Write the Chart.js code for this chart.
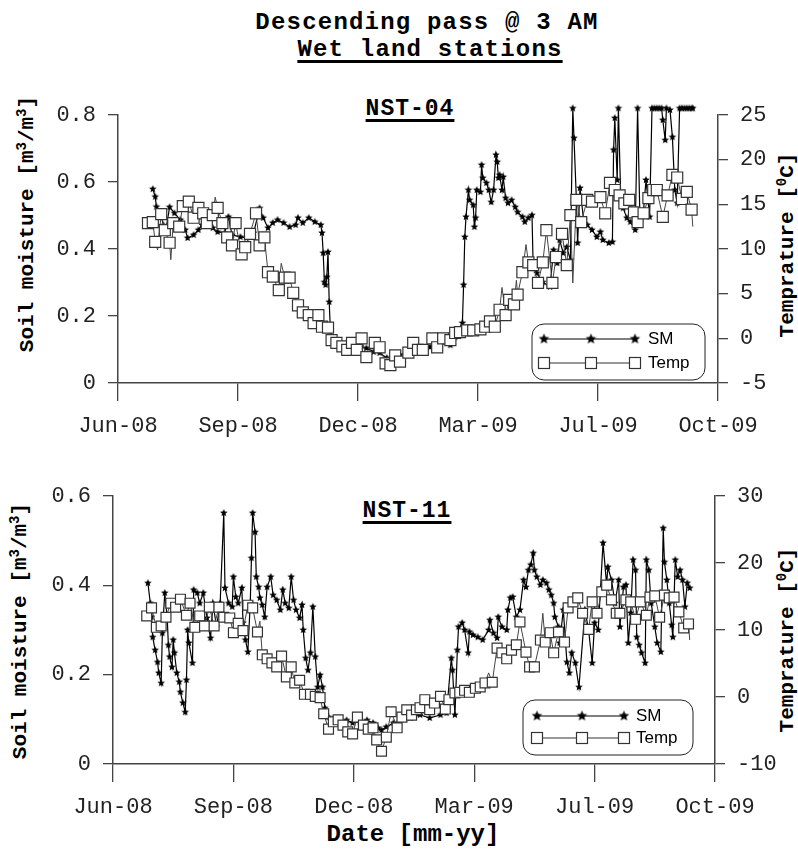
<!DOCTYPE html>
<html>
<head>
<meta charset="utf-8">
<script src="https://cdn.jsdelivr.net/npm/chart.js@4.4.1/dist/chart.umd.min.js"></script>
<style>
  body { margin: 0; background: #fff; width: 798px; height: 855px; position: relative; overflow: hidden;
         font-family: "Liberation Mono", "Courier New", monospace; }
  canvas { position: absolute; left: 0; }
  .t { position: absolute; font-weight: bold; color: #000; white-space: nowrap; line-height: 1; }
  .h { transform: translateX(-50%); }
  .u { text-decoration: underline; text-decoration-thickness: 3px; text-underline-offset: 4px; }
  .v { transform: translate(-50%, -50%) rotate(-90deg); font-size: 21px; }
  sup { font-size: 14px; vertical-align: 7px; line-height: 0; }
</style>
</head>
<body>
<div class="t h" style="left:427px;top:11px;font-size:24px;letter-spacing:1.2px">Descending pass @ 3 AM</div>
<div class="t h u" style="left:430px;top:38px;font-size:24px;letter-spacing:1.2px">Wet land stations</div>
<div class="t h u" style="left:410px;top:98px;font-size:23px;letter-spacing:1px">NST-04</div>
<div class="t h u" style="left:407px;top:500px;font-size:23px;letter-spacing:1px">NST-11</div>
<div class="t v" style="left:27px;top:224px">Soil moisture [m<sup>3</sup>/m<sup>3</sup>]</div>
<div class="t v" style="left:20px;top:631px">Soil moisture [m<sup>3</sup>/m<sup>3</sup>]</div>
<div class="t v" style="left:787px;top:245px">Temprature [<sup>0</sup>C]</div>
<div class="t v" style="left:787px;top:640px">Temprature [<sup>0</sup>C]</div>
<div class="t h" style="left:413px;top:823px;font-size:24px">Date [mm-yy]</div>

<canvas id="top" width="798" height="440" style="top:0"></canvas>
<canvas id="bottom" width="798" height="415" style="top:440px"></canvas>

<script>
// x = days since 1 Jun 2008, y = value
// a third element 0 means a point of the thin line with no square marker
const sm04 = [[29,0.579],[31,0.556],[32,0.526],[35,0.511],[38,0.47],[40,0.46],[43,0.525],[47,0.507],[52,0.487],[56,0.457],
  [58,0.433],[63,0.442],[67,0.457],[70,0.472],[74,0.472],[79,0.463],[83,0.451],[89,0.448],[92,0.496],[95,0.442],
  [102,0.436],[107,0.433],[113,0.448],[118,0.522],[121,0.493],[125,0.463],[129,0.478],[133,0.487],[138,0.478],[143,0.466],
  [148,0.472],[150,0.493],[154,0.478],[159,0.493],[164,0.481],[169,0.472],[170,0.448],[171,0.388],[172,0.301],[173,0.293],
  [174,0.316],[175,0.391],[176,0.242],[177,0.158],[179,0.128],[185,0.113],[193,0.104],[202,0.107],[207,0.104],[213,0.093],
  [218,0.090],[224,0.075],[229,0.078],[235,0.084],[241,0.090],[246,0.099],[252,0.104],[260,0.107],[268,0.119],[277,0.113],
  [281,0.137],[287,0.179],[288,0.293],[289,0.436],[290,0.496],[292,0.576],[293,0.546],[296,0.531],[297,0.466],[298,0.493],
  [299,0.576],[302,0.570],[303,0.651],[304,0.612],[307,0.597],[309,0.576],[311,0.540],[313,0.576],[315,0.681],[316,0.660],
  [317,0.612],[318,0.621],[320,0.576],[321,0.615],[323,0.552],[325,0.537],[328,0.546],[331,0.525],[333,0.510],[337,0.496],
  [339,0.481],[342,0.493],[345,0.501],[346,0.343],[349,0.328],[354,0.301],[360,0.287],[363,0.397],[366,0.358],[368,0.427],
  [371,0.388],[374,0.406],[377,0.367],[379,0.82],[380,0.731],[382,0.546],[383,0.418],[385,0.582],[388,0.487],[391,0.472],
  [395,0.457],[399,0.436],[402,0.451],[404,0.427],[409,0.418],[412,0.421],[413,0.696],[414,0.791],[416,0.606],[417,0.82],
  [419,0.546],[421,0.522],[424,0.493],[427,0.481],[431,0.457],[433,0.82],[435,0.481],[438,0.516],[440,0.606],[443,0.496],
  [445,0.82],[447,0.82],[449,0.82],[451,0.82],[453,0.82],[454,0.785],[456,0.725],[457,0.82],[460,0.815],[462,0.734],
  [464,0.576],[466,0.537],[468,0.82],[470,0.82],[472,0.82],[474,0.82],[476,0.82],[478,0.82],[479,0.82]];

const temp04 = [[25,12.9],[29,13.0],[31,10.8],[33,9.9,0],[36,13.9],[39,12.1],[43,10.7],[44,8.8,0],[46,12.9],[51,12.5],
  [54,14.8],[59,15.3],[63,13.5],[67,14.6],[71,14.0],[74,12.9],[79,13.8],[81,15.8,0],[83,14.6],[87,12.9],
  [91,11.3],[95,10.4],[98,12.9],[103,9.4],[106,10.2],[110,11.7],[115,14.0],[118,10.4],[122,11.3],[125,7.4],
  [129,6.9],[134,5.4],[136,8.4,0],[139,6.8],[143,6.8],[146,5.1],[150,3.7],[154,2.9],[159,2.6],[163,1.7],
  [167,2.6],[170,1.3],[175,1.2],[178,-0.2],[182,-0.5],[187,-0.9],[191,-1.3],[195,-0.5],[199,-1.3],[203,0.0],
  [207,-2.1],[214,-0.5],[218,-1.0],[223,-2.8],[227,-3.0],[231,-1.9],[235,-2.6],[242,-1.6],[246,-0.5],[250,-1.3],
  [254,-1.3],[262,0.0],[266,-1.0],[271,0.0],[277,-0.2],[281,0.6],[285,0.7],[291,0.9],[296,0.9],[302,1.0],
  [306,1.3],[310,1.9],[314,1.3],[318,3.2],[320,5.7,0],[323,2.6],[326,4.3],[330,3.8],[332,6.5,0],[333,4.9],
  [337,7.4],[340,10.5,0],[342,8.5],[346,8.2],[350,6.2],[354,8.5],[357,12.1],[362,6.2],[365,9.1],[370,11.7],
  [374,8.2],[377,13.8],[379,6.2,0],[382,15.5],[386,13.0],[391,15.5],[395,15.3],[402,15.8],[406,14.0],[410,17.4],
  [414,16.6],[418,16.0],[422,15.1],[426,15.5],[430,14.1],[433,13.0],[438,14.0],[442,15.7],[446,16.6],[449,16.6],
  [454,13.6],[458,16.0],[462,18.3],[466,18.0],[470,15.6],[474,16.4],[478,14.4],[479,12.5,0]];

const sm11 = [[29,0.405],[31,0.360],[32,0.329],[33,0.284],[35,0.255],[37,0.228],[38,0.204],[40,0.181],[41,0.293],[43,0.383],
  [45,0.329],[46,0.266],[47,0.240],[49,0.217],[50,0.278],[51,0.249],[53,0.204],[55,0.184],[56,0.161],[58,0.137],
  [60,0.116],[61,0.188],[62,0.300],[63,0.271],[66,0.226],[67,0.390],[70,0.383],[72,0.360],[75,0.383],[78,0.327],
  [81,0.282],[83,0.360],[86,0.307],[89,0.360],[92,0.562],[93,0.394],[96,0.360],[99,0.352],[100,0.419],[102,0.374],
  [104,0.360],[107,0.394],[108,0.316],[110,0.278],[112,0.251],[114,0.360],[115,0.461],[116,0.562],[118,0.519],[119,0.419],
  [121,0.396],[122,0.372],[124,0.356],[126,0.329],[128,0.396],[131,0.419],[133,0.378],[136,0.367],[139,0.345],[141,0.390],
  [143,0.360],[146,0.349],[148,0.419],[150,0.367],[152,0.345],[155,0.327],[157,0.356],[158,0.300],[160,0.237],[162,0.210],
  [164,0.249],[166,0.352],[168,0.240],[170,0.172],[172,0.199],[174,0.172],[176,0.125],[179,0.105],[183,0.098],[189,0.094],
  [194,0.098],[199,0.092],[205,0.094],[211,0.098],[216,0.092],[220,0.081],[223,0.076],[227,0.083],[233,0.092],[238,0.094],
  [247,0.103],[255,0.110],[263,0.103],[272,0.110],[277,0.114],[281,0.237],[282,0.210],[284,0.110],[286,0.255],[287,0.307],
  [290,0.316],[292,0.300],[295,0.249],[296,0.296],[299,0.289],[303,0.284],[307,0.278],[312,0.300],[313,0.322],[316,0.293],
  [319,0.282],[320,0.329],[323,0.307],[327,0.300],[328,0.345],[330,0.372],[332,0.374],[335,0.329],[338,0.345],[341,0.412],
  [343,0.396],[345,0.434],[347,0.446],[349,0.472],[350,0.434],[352,0.419],[355,0.401],[357,0.412],[360,0.405],[362,0.390],
  [364,0.378],[366,0.360],[367,0.329],[370,0.307],[371,0.271],[374,0.345],[377,0.228],[379,0.204],[381,0.249],[384,0.226],
  [387,0.172],[392,0.345],[395,0.300],[398,0.226],[400,0.316],[403,0.300],[407,0.495],[410,0.401],[411,0.441],[414,0.412],
  [417,0.360],[420,0.412],[421,0.307],[424,0.396],[426,0.401],[428,0.271],[430,0.338],[432,0.457],[434,0.434],[435,0.284],
  [437,0.266],[439,0.249],[442,0.226],[443,0.457],[445,0.434],[447,0.360],[450,0.307],[452,0.271],[455,0.251],[457,0.528],
  [458,0.452],[460,0.412],[462,0.360],[464,0.311],[465,0.284],[467,0.457],[469,0.419],[471,0.434],[473,0.412],[475,0.352],
  [477,0.405],[479,0.394]];

const temp11 = [[28,12.1],[32,13.3],[36,10.4],[40,10.6],[44,11.9],[48,14.0],[52,13.4],[56,14.6],[61,12.2],[64,14.0],
  [68,10.4],[72,12.1],[76,10.6],[80,13.4],[84,10.6],[88,13.4],[92,11.9],[97,11.8],[100,9.6],[104,11.0],
  [108,9.9],[112,13.7],[116,13.3],[120,9.7],[122,11.3,0],[124,6.3],[128,5.7],[132,5.1],[136,4.5],[140,6.1],
  [144,3.0],[148,4.5],[151,2.1],[155,2.5],[159,0.4],[164,0.4],[168,0.1],[172,-0.1],[175,-2.5],[179,-4.8],
  [183,-3.7],[187,-3.4],[191,-4.2],[195,-5.2],[199,-5.5],[203,-3.0],[208,-4.2],[212,-4.8],[216,-4.6],[219,-6.4],
  [223,-8.1],[227,-6.0],[231,-2.2],[236,-4.6],[240,-3.0],[244,-1.9],[248,-2.7],[252,-1.9],[255,-1.6],[259,-0.4],
  [263,-1.9],[267,-0.9],[272,0.1],[276,-1.8],[279,-0.4],[284,0.6],[288,0.7],[292,1.0],[296,0.7],[301,1.3],
  [305,1.5],[309,2.1],[312,3.6,0],[315,2.2],[319,7.3],[323,6.6],[327,5.7],[331,7.0],[335,7.8],[338,11.2],
  [343,6.7],[346,4.5],[350,4.5],[355,8.5],[357,12.5,0],[359,8.2],[363,9.6],[366,6.6],[370,9.7],[375,8.2],
  [378,13.3],[382,14.2],[386,14.8],[390,12.5],[395,10.1],[398,14.2],[402,12.5],[406,15.7],[410,16.7],[414,14.5],
  [418,12.5],[421,12.5],[426,14.5],[430,14.2],[434,11.6],[438,14.2],[443,12.2],[446,14.9],[450,15.1],[454,11.9],
  [458,15.2],[462,14.8],[466,14.9],[470,12.7],[474,10.3],[478,10.9],[479,8.5,0]];

const xTicks = [0, 100, 200, 300, 400, 500];
const months = ['Jan','Feb','Mar','Apr','May','Jun','Jul','Aug','Sep','Oct','Nov','Dec'];

function fmtDay(v) {
  const d = new Date(2008, 5, 1 + v);
  return months[d.getMonth()] + '-' + String(d.getFullYear() % 100).padStart(2, '0');
}

function starImg(r) {
  const c = document.createElement('canvas');
  const s = Math.ceil(r * 2 + 2);
  c.width = c.height = s;
  const g = c.getContext('2d');
  g.translate(s / 2, s / 2);
  g.beginPath();
  for (let i = 0; i < 10; i++) {
    const a = -Math.PI / 2 + i * Math.PI / 5;
    const rr = i % 2 ? r * 0.45 : r;
    g.lineTo(Math.cos(a) * rr, Math.sin(a) * rr);
  }
  g.closePath();
  g.fillStyle = '#000';
  g.fill();
  return c;
}

const star = starImg(4);
const bigStar = starImg(5.5);

const tickFont = { family: '"Liberation Mono", "Courier New", monospace', size: 22 };
const axisCol = '#444';

// rounded legend box with three markers per row, like the original
const legendBox = {
  id: 'legendBox',
  afterDatasetsDraw(chart, args, o) {
    const ctx = chart.ctx;
    ctx.save();
    ctx.fillStyle = '#fff';
    ctx.strokeStyle = '#222';
    ctx.lineWidth = 1;
    ctx.beginPath();
    ctx.roundRect(o.x, o.y, o.w, o.h, 12);
    ctx.fill();
    ctx.stroke();

    ctx.strokeStyle = '#000';
    ctx.beginPath();
    ctx.moveTo(o.xs[0], o.rows[0]); ctx.lineTo(o.xs[2], o.rows[0]);
    ctx.stroke();
    o.xs.forEach(x => ctx.drawImage(bigStar, x - bigStar.width / 2, o.rows[0] - bigStar.height / 2));

    ctx.strokeStyle = '#333';
    ctx.beginPath();
    ctx.moveTo(o.xs[0], o.rows[1]); ctx.lineTo(o.xs[2], o.rows[1]);
    ctx.stroke();
    ctx.lineWidth = 1.2;
    o.xs.forEach(x => {
      ctx.fillStyle = '#fff';
      ctx.fillRect(x - 5.5, o.rows[1] - 5.5, 11, 11);
      ctx.strokeRect(x - 5.5, o.rows[1] - 5.5, 11, 11);
    });

    ctx.fillStyle = '#000';
    ctx.font = '17px "Liberation Sans", Arial, sans-serif';
    ctx.textBaseline = 'middle';
    ctx.fillText('SM', o.tx, o.rows[0]);
    ctx.fillText('Temp', o.tx, o.rows[1]);
    ctx.restore();
  }
};

function panel(el, o) {
  const gridOpts = len => ({ display: true, drawOnChartArea: false, drawTicks: true, tickLength: len, color: axisCol, lineWidth: 1.3 });
  return new Chart(el, {
    type: 'line',
    data: {
      datasets: [
        {
          label: 'Temp', yAxisID: 'yT', order: 0,
          data: o.temp.map(p => ({ x: p[0], y: p[1], m: p[2] })),
          borderColor: '#444', borderWidth: 1, tension: 0,
          pointStyle: 'rect', pointRadius: c => (c.raw && c.raw.m === 0 ? 0 : o.sq),
          pointBackgroundColor: '#fff', pointBorderColor: '#333', pointBorderWidth: 1.2
        },
        {
          label: 'SM', yAxisID: 'ySM', order: 1, clip: false,
          data: o.sm.map(p => ({ x: p[0], y: p[1] })),
          borderColor: '#000', borderWidth: 1.2, tension: 0,
          pointStyle: star, pointRadius: 4, pointBorderWidth: 8
        }
      ]
    },
    options: {
      responsive: false,
      animation: false,
      events: [],
      layout: { padding: { top: o.padTop, left: 0, right: 0, bottom: 0 } },
      plugins: { legend: { display: false }, tooltip: { enabled: false }, legendBox: o.legend },
      scales: {
        x: {
          type: 'linear', min: 0, max: 500,
          afterBuildTicks: s => { s.ticks = xTicks.map(v => ({ value: v })); },
          ticks: { callback: fmtDay, font: tickFont, color: '#222', padding: 12, maxRotation: 0, autoSkip: false },
          grid: gridOpts(18),
          border: { display: true, color: axisCol, width: 1.5 },
          afterFit: s => { s.height = o.xH; }
        },
        ySM: {
          position: 'left', min: 0, max: o.smMax,
          ticks: { stepSize: 0.2, callback: v => +v.toFixed(1), font: tickFont, color: '#222', padding: 12 },
          grid: gridOpts(10),
          border: { display: true, color: axisCol, width: 1.5 },
          afterFit: s => { s.width = o.leftW; }
        },
        yT: {
          position: 'right', min: o.tMin, max: o.tMax,
          ticks: { stepSize: o.tStep, font: tickFont, color: '#222', padding: 12 },
          grid: gridOpts(10),
          border: { display: true, color: axisCol, width: 1.5 },
          afterFit: s => { s.width = o.rightW; }
        }
      }
    },
    plugins: [legendBox]
  });
}

panel(document.getElementById('top'), {
  sm: sm04, temp: temp04, sq: 7.8,
  padTop: 115, xH: 57, leftW: 118, rightW: 80,
  smMax: 0.8, tMin: -5, tMax: 25, tStep: 5,
  legend: { x: 532, y: 324, w: 173, h: 56, xs: [544, 591, 635], rows: [339, 363], tx: 648 }
});

panel(document.getElementById('bottom'), {
  sm: sm11, temp: temp11, sq: 7,
  padTop: 56, xH: 91, leftW: 113, rightW: 83,
  smMax: 0.6, tMin: -10, tMax: 30, tStep: 10,
  legend: { x: 523, y: 260, w: 170, h: 55, xs: [537, 582, 624], rows: [276, 298], tx: 636 }
});
</script>
</body>
</html>
